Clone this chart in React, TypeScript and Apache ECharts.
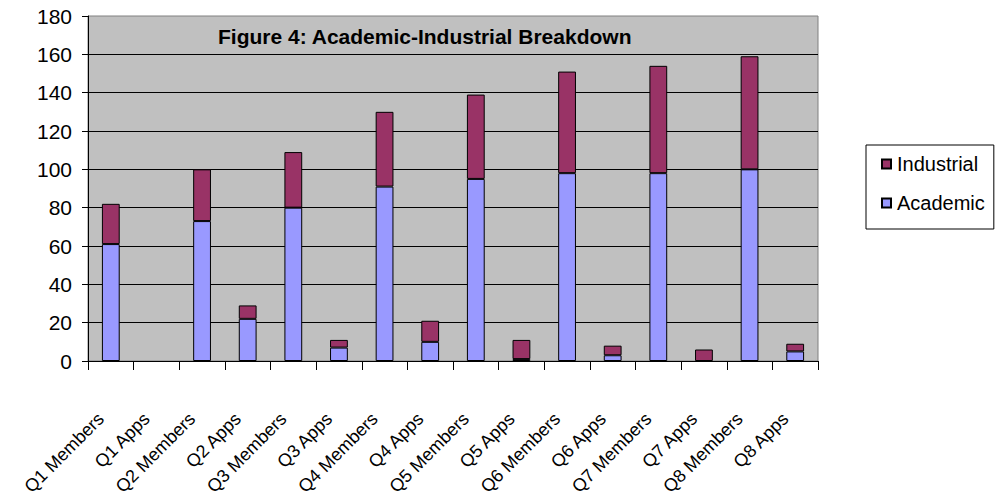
import React, { useEffect, useRef } from "react";
import * as echarts from "echarts";

const categories = [
  "Q1 Members", "Q1 Apps", "Q2 Members", "Q2 Apps", "Q3 Members", "Q3 Apps",
  "Q4 Members", "Q4 Apps", "Q5 Members", "Q5 Apps", "Q6 Members", "Q6 Apps",
  "Q7 Members", "Q7 Apps", "Q8 Members", "Q8 Apps",
];
const academic = [61, 0, 73, 22, 80, 7, 91, 10, 95, 1, 98, 3, 98, 0, 100, 5];
const industrial = [21, 0, 27, 7, 29, 4, 39, 11, 44, 10, 53, 5, 56, 6, 59, 4];
const yTicks = { min: 0, max: 180, interval: 20 };
const titleText = "Figure 4: Academic-Industrial Breakdown";

const FONT = "'Liberation Sans', Arial, sans-serif";

// zero-height segments are not drawn in the reference
const nz = (arr: number[]) => arr.map((v) => (v === 0 ? null : v));

export default function App() {
  const ref = useRef<HTMLDivElement>(null);
  useEffect(() => {
    if (!ref.current) return;
    const chart = echarts.init(ref.current, null, { renderer: "svg" });
    chart.setOption({
      animation: false,
      backgroundColor: "#ffffff",
      textStyle: { fontFamily: FONT, color: "#000" },
      title: {
        text: titleText,
        left: 218,
        top: 26,
        padding: 0,
        textStyle: { fontFamily: FONT, fontSize: 21, fontWeight: "bold", color: "#000" },
      },
      legend: {
        orient: "vertical",
        left: 866,
        top: 145,
        data: ["Industrial", "Academic"],
        icon: "rect",
        itemWidth: 9,
        itemHeight: 9,
        itemGap: 19,
        padding: [9, 9, 16, 15],
        borderColor: "#000",
        borderWidth: 1,
        textStyle: { fontFamily: FONT, fontSize: 20, color: "#000", padding: [0, 0, 0, 1] },
      },
      grid: {
        left: 88,
        right: 179,
        top: 16,
        bottom: 138,
        show: true,
        backgroundColor: "#C0C0C0",
        borderColor: "#808080",
        borderWidth: 1,
        containLabel: false,
        outerBoundsMode: "none",
      },
      xAxis: {
        type: "category",
        data: categories,
        boundaryGap: true,
        axisLine: { show: true, lineStyle: { color: "#000", width: 1 } },
        axisTick: { show: true, length: 9, lineStyle: { color: "#000" }, interval: 0 },
        axisLabel: {
          interval: 0,
          rotate: 45,
          margin: 45,
          padding: [0, 14, 0, 0],
          fontFamily: FONT,
          fontSize: 18,
          color: "#000",
        },
        splitLine: { show: false },
      },
      yAxis: {
        type: "value",
        min: yTicks.min,
        max: yTicks.max,
        interval: yTicks.interval,
        axisLine: { show: true, lineStyle: { color: "#000", width: 1 } },
        axisTick: { show: true, length: 6, lineStyle: { color: "#000" } },
        axisLabel: { margin: 16, fontFamily: FONT, fontSize: 21, color: "#000" },
        splitLine: { show: true, showMaxLine: false, lineStyle: { color: "#000", width: 1 } },
      },
      series: [
        {
          name: "Academic",
          type: "bar",
          stack: "total",
          data: nz(academic),
          barWidth: "39%",
          itemStyle: { color: "#9999FF", borderColor: "#000", borderWidth: 1 },
        },
        {
          name: "Industrial",
          type: "bar",
          stack: "total",
          data: nz(industrial),
          barWidth: "39%",
          itemStyle: { color: "#993366", borderColor: "#000", borderWidth: 1 },
        },
      ],
    });
    return () => chart.dispose();
  }, []);
  return (
    <div
      ref={ref}
      style={{ position: "fixed", left: 0, top: 0, width: 997, height: 499 }}
    />
  );
}
